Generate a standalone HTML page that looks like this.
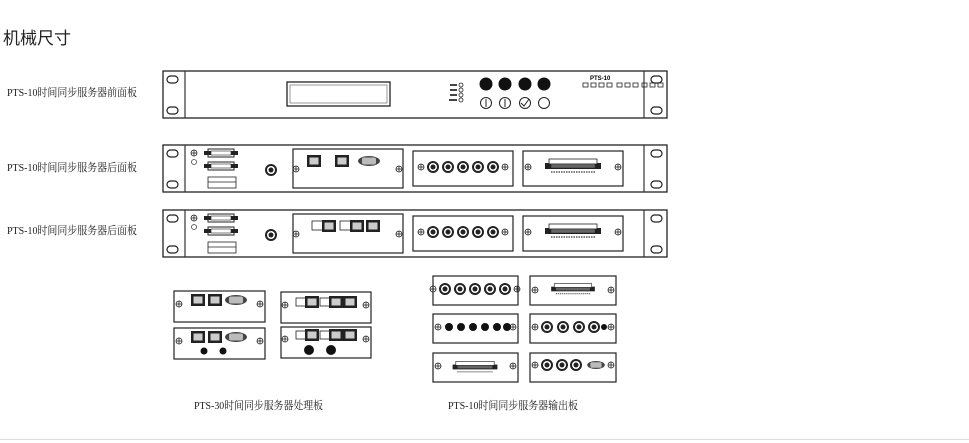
<!DOCTYPE html>
<html><head><meta charset="utf-8"><style>
html,body{margin:0;padding:0;background:#fff;width:969px;height:443px;overflow:hidden}
svg{display:block}
.l{font-family:"Liberation Serif","Noto Serif CJK SC",serif;font-size:11px;fill:#222}
</style></head><body>
<svg width="969" height="443" viewBox="0 0 969 443" xmlns="http://www.w3.org/2000/svg">
<defs>
 <g id="ears">
  <line x1="185" y1="0" x2="185" y2="47" stroke="#333" stroke-width="1.2"/>
  <line x1="644" y1="0" x2="644" y2="47" stroke="#333" stroke-width="1.2"/>
  <rect x="167" y="5" width="11" height="7" rx="3.5" fill="none" stroke="#222" stroke-width="1.2"/>
  <rect x="167" y="36" width="11" height="7" rx="3.5" fill="none" stroke="#222" stroke-width="1.2"/>
  <rect x="651" y="5" width="11" height="7" rx="3.5" fill="none" stroke="#222" stroke-width="1.2"/>
  <rect x="651" y="36" width="11" height="7" rx="3.5" fill="none" stroke="#222" stroke-width="1.2"/>
 </g>
 <g id="screw"><circle r="3" fill="none" stroke="#222" stroke-width="0.8"/><line x1="-3" y1="0" x2="3" y2="0" stroke="#222" stroke-width="0.8"/><line x1="0" y1="-3" x2="0" y2="3" stroke="#222" stroke-width="0.8"/></g>
 <g id="bnc"><circle r="6" fill="#222"/><circle r="4" fill="#fff"/><circle r="2.5" fill="#222"/></g>
 <g id="rj"><rect x="-7" y="-6" width="14" height="12" fill="#222"/><rect x="-4.5" y="-3.5" width="9" height="7" fill="#ccc"/></g>
 <g id="db9"><ellipse rx="11" ry="5" fill="#444"/><rect x="-7" y="-3.5" width="14" height="7" rx="2" fill="#bbb"/></g>
 <g id="term"><rect x="-28" y="-3" width="56" height="6" fill="#222"/><rect x="-24" y="-7" width="48" height="5" fill="#fff" stroke="#222" stroke-width="0.8"/><rect x="-22" y="-2" width="44" height="4" fill="#666" stroke="#222" stroke-width="0.5"/><line x1="-22" y1="6" x2="22" y2="6" stroke="#555" stroke-width="1.5" stroke-dasharray="1.5 1"/></g>
 <g id="bncmod"><use href="#screw" x="-42"/><use href="#bnc" x="-30"/><use href="#bnc" x="-15"/><use href="#bnc" x="0"/><use href="#bnc" x="15"/><use href="#bnc" x="30"/><use href="#screw" x="42"/></g>
 <g id="rear">
  <rect x="163" y="0" width="504" height="47" fill="#fff" stroke="#222" stroke-width="1.3"/>
  <use href="#ears"/>
  <use href="#screw" x="194" y="8"/><circle cx="194" cy="17" r="2.5" fill="none" stroke="#444" stroke-width="0.8"/>
  <rect x="208" y="4" width="26" height="8" fill="#fff" stroke="#222"/><rect x="204" y="6" width="34" height="4" fill="#222"/><rect x="211" y="6" width="20" height="4" fill="#fff" stroke="#222" stroke-width="0.6"/>
  <rect x="208" y="17" width="26" height="8" fill="#fff" stroke="#222"/><rect x="204" y="19" width="34" height="4" fill="#222"/><rect x="211" y="19" width="20" height="4" fill="#fff" stroke="#222" stroke-width="0.6"/>
  <rect x="208" y="32" width="28" height="11" fill="#fff" stroke="#222" stroke-width="0.8"/>
  <line x1="208" y1="37" x2="236" y2="37" stroke="#222" stroke-width="0.8"/>
  <use href="#bnc" x="271" y="25"/>
  <rect x="293" y="4" width="110" height="39" fill="#fff" stroke="#222" stroke-width="1.2"/>
  <use href="#screw" x="296" y="24"/><use href="#screw" x="399" y="24"/>
  <rect x="413" y="6" width="100" height="35" fill="#fff" stroke="#222" stroke-width="1.2"/>
  <use href="#bncmod" x="463" y="22"/>
  <rect x="523" y="6" width="100" height="35" fill="#fff" stroke="#222" stroke-width="1.2"/>
  <use href="#screw" x="528" y="22"/><use href="#screw" x="618" y="22"/>
  <use href="#term" x="573" y="21"/>
 </g>
</defs>

<text x="3" y="44" style="font-family:'Liberation Sans','Noto Sans CJK SC',sans-serif;font-size:17px;fill:#222">机械尺寸</text>
<text class="l" x="7" y="96" textLength="130" lengthAdjust="spacingAndGlyphs">PTS-10时间同步服务器前面板</text>
<text class="l" x="7" y="171" textLength="130" lengthAdjust="spacingAndGlyphs">PTS-10时间同步服务器后面板</text>
<text class="l" x="7" y="234" textLength="130" lengthAdjust="spacingAndGlyphs">PTS-10时间同步服务器后面板</text>

<g transform="translate(0,71)">
 <rect x="163" y="0" width="504" height="47" fill="#fff" stroke="#222" stroke-width="1.3"/>
 <use href="#ears"/>
 <rect x="287" y="11" width="103" height="24" fill="#fff" stroke="#222" stroke-width="1.3"/>
 <rect x="290" y="14" width="97" height="18" fill="none" stroke="#555" stroke-width="0.6"/>
 <g fill="none" stroke="#222" stroke-width="0.8"><circle cx="461" cy="14" r="2"/><circle cx="461" cy="19" r="2"/><circle cx="461" cy="24" r="2"/><circle cx="461" cy="29" r="2"/></g>
 <g fill="#444"><rect x="450" y="13" width="7" height="2"/><rect x="450" y="18" width="7" height="2"/><rect x="450" y="23" width="7" height="2"/><rect x="449" y="28" width="8" height="2"/></g>
 <g fill="#111"><circle cx="486" cy="13" r="6.5"/><circle cx="505" cy="13" r="6.5"/><circle cx="525" cy="13" r="6.5"/><circle cx="544" cy="13" r="6.5"/></g>
 <g fill="none" stroke="#222" stroke-width="1"><circle cx="486" cy="32" r="5.5"/><circle cx="505" cy="32" r="5.5"/><circle cx="525" cy="32" r="5.5"/><circle cx="544" cy="32" r="5.5"/>
 <line x1="486" y1="28" x2="486" y2="36"/><line x1="505" y1="28" x2="505" y2="36"/><polyline points="521,32 524,35 529,28"/></g>
 <text x="590" y="9" style="font-family:'Liberation Sans',sans-serif;font-size:6px;font-weight:bold">PTS-10</text>
 <g fill="none" stroke="#222" stroke-width="0.8"><rect x="583" y="12" width="5" height="4"/><rect x="591" y="12" width="5" height="4"/><rect x="599" y="12" width="5" height="4"/><rect x="607" y="12" width="5" height="4"/><rect x="617" y="12" width="5" height="4"/><rect x="625" y="12" width="5" height="4"/><rect x="633" y="12" width="5" height="4"/><rect x="642" y="12" width="5" height="4"/><rect x="650" y="12" width="5" height="4"/><rect x="658" y="12" width="5" height="4"/></g>
</g>

<use href="#rear" y="145"/>
<use href="#rear" y="210"/>
<use href="#rj" x="314" y="161"/><use href="#rj" x="342" y="161"/><use href="#db9" x="369" y="161"/>
<rect x="312" y="221" width="11" height="9" fill="#fff" stroke="#222" stroke-width="0.8"/><use href="#rj" x="329" y="226"/>
<rect x="340" y="221" width="11" height="9" fill="#fff" stroke="#222" stroke-width="0.8"/><use href="#rj" x="357" y="226"/><use href="#rj" x="373" y="226"/>

<g fill="#fff" stroke="#222" stroke-width="1.2">
 <rect x="174" y="291" width="91" height="31"/><rect x="174" y="328" width="91" height="31"/>
 <rect x="281" y="292" width="90" height="31"/><rect x="281" y="327" width="90" height="31"/>
 <rect x="433" y="276" width="85" height="29"/><rect x="530" y="276" width="86" height="29"/>
 <rect x="433" y="314" width="85" height="29"/><rect x="530" y="314" width="86" height="29"/>
 <rect x="433" y="353" width="85" height="29"/><rect x="530" y="353" width="86" height="29"/>
</g>
<use href="#screw" x="179" y="304"/><use href="#screw" x="260" y="304"/><use href="#rj" x="198" y="300"/><use href="#rj" x="215" y="300"/><use href="#db9" x="236" y="300"/>
<use href="#screw" x="179" y="341"/><use href="#screw" x="260" y="341"/><use href="#rj" x="198" y="337"/><use href="#rj" x="215" y="337"/><use href="#db9" x="236" y="337"/>
<circle cx="204" cy="351" r="3.5" fill="#111"/><circle cx="223" cy="351" r="3.5" fill="#111"/>
<use href="#screw" x="285" y="305"/><use href="#screw" x="366" y="305"/>
<rect x="296" y="298" width="10" height="8" fill="#fff" stroke="#222" stroke-width="0.8"/><use href="#rj" x="312" y="302"/>
<rect x="320" y="298" width="10" height="8" fill="#fff" stroke="#222" stroke-width="0.8"/><use href="#rj" x="336" y="302"/><use href="#rj" x="350" y="302"/>
<use href="#screw" x="285" y="339"/><use href="#screw" x="366" y="339"/>
<rect x="296" y="331" width="10" height="8" fill="#fff" stroke="#222" stroke-width="0.8"/><use href="#rj" x="312" y="335"/>
<rect x="320" y="331" width="10" height="8" fill="#fff" stroke="#222" stroke-width="0.8"/><use href="#rj" x="336" y="335"/><use href="#rj" x="350" y="335"/>
<circle cx="309" cy="350" r="5" fill="#111"/><circle cx="331" cy="350" r="5" fill="#111"/>

<use href="#bncmod" x="475" y="289"/>
<use href="#screw" x="535" y="290"/><use href="#screw" x="611" y="290"/>
<g transform="translate(573,289) scale(0.78)"><use href="#term"/></g>
<use href="#screw" x="438" y="327"/><use href="#screw" x="513" y="327"/>
<g fill="#111"><circle cx="449" cy="327" r="4"/><circle cx="461" cy="327" r="4"/><circle cx="473" cy="327" r="4"/><circle cx="485" cy="327" r="4"/><circle cx="497" cy="327" r="4"/><circle cx="507" cy="327" r="4"/></g>
<use href="#screw" x="535" y="327"/><use href="#screw" x="611" y="327"/>
<use href="#bnc" x="547" y="327"/><use href="#bnc" x="563" y="327"/><use href="#bnc" x="579" y="327"/><use href="#bnc" x="594" y="327"/><circle cx="604" cy="327" r="3" fill="#111"/>
<use href="#screw" x="438" y="366"/><use href="#screw" x="513" y="366"/>
<g transform="translate(475,367) scale(0.8)"><use href="#term"/></g>
<use href="#screw" x="535" y="365"/><use href="#screw" x="611" y="365"/>
<use href="#bnc" x="547" y="365"/><use href="#bnc" x="562" y="365"/><use href="#bnc" x="576" y="365"/>
<g transform="translate(596,365) scale(0.8)"><use href="#db9"/></g>

<text class="l" x="194" y="409" textLength="129" lengthAdjust="spacingAndGlyphs">PTS-30时间同步服务器处理板</text>
<text class="l" x="448" y="409" textLength="130" lengthAdjust="spacingAndGlyphs">PTS-10时间同步服务器输出板</text>
<line x1="0" y1="439.5" x2="969" y2="439.5" stroke="#ddd" stroke-width="1"/>
</svg>
</body></html>
